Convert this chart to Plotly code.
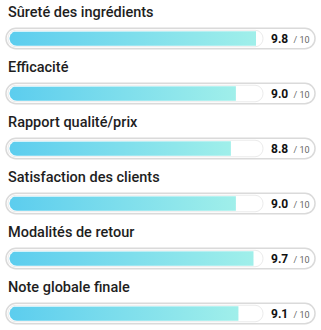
import numpy as np
import plotly.graph_objects as go

categories = ["Sûreté des ingrédients", "Efficacité", "Rapport qualité/prix",
              "Satisfaction des clients", "Modalités de retour", "Note globale finale"]
scores = [9.8, 9.0, 8.8, 9.0, 9.7, 9.1]
max_score = 10

W, H = 321, 330
PX_PER_X = 25.1          # pixels per score unit
X0_PX = 10               # pixel position of score 0
ROW_PX = 55              # row spacing in pixels
ROW0_PX = 38.5           # center of first bar

x_range = [-X0_PX / PX_PER_X, (W - X0_PX) / PX_PER_X]
y_range = [(H - ROW0_PX) / ROW_PX, -ROW0_PX / ROW_PX]

def px_x(p):
    return p / PX_PER_X

def px_y(p):
    return p / ROW_PX

rows = list(range(len(categories)))
fig = go.Figure()

# outer track
outer_left = px_x(6 - X0_PX)
outer_right = px_x(315 - X0_PX)
fig.add_trace(go.Bar(
    y=rows, x=[outer_right - outer_left] * len(rows), base=[outer_left] * len(rows),
    orientation="h", width=px_y(20.5),
    marker=dict(color="white", line=dict(color="#dadada", width=1.5), cornerradius=10),
    hoverinfo="skip", showlegend=False))

# inner track
inner_left = px_x(8 - X0_PX)
inner_right = max_score + px_x(2)
fig.add_trace(go.Bar(
    y=rows, x=[inner_right - inner_left] * len(rows), base=[inner_left] * len(rows),
    orientation="h", width=px_y(16.5),
    marker=dict(color="white", line=dict(color="#ebebeb", width=1), cornerradius=8),
    hoverinfo="skip", showlegend=False))

# gradient fills with rounded left end
r_px = 7.3
rx, ry = px_x(r_px), px_y(r_px)
left = px_x(9.5 - X0_PX)
for i, v in enumerate(scores):
    theta = np.linspace(np.pi / 2, 3 * np.pi / 2, 24)
    cx = left + rx
    xs = list(cx + rx * np.cos(theta))
    ys = list(i - ry * np.sin(theta))
    xs = [v] + xs + [v, v]
    ys = [i - ry] + ys + [i + ry, i - ry]
    fig.add_trace(go.Scatter(
        x=xs, y=ys, mode="lines", fill="toself", line=dict(width=0),
        fillgradient=dict(type="horizontal",
                          colorscale=[[0, "#5ccdee"], [1, "#a0efea"]]),
        hoverinfo="skip", showlegend=False))

annotations = []
for i, (c, v) in enumerate(zip(categories, scores)):
    annotations.append(dict(
        x=px_x(5.5 - X0_PX), y=i - px_y(26.5), xref="x", yref="y",
        text=c, showarrow=False, xanchor="left", yanchor="middle",
        font=dict(family="Roboto", size=14.5, color="#1e1e1e", weight=500)))
    annotations.append(dict(
        x=px_x(269 - X0_PX), y=i + px_y(0.5), xref="x", yref="y",
        text=f"<b>{v:.1f}</b> <span style='font-size:9px;color:#666'> / {max_score}</span>",
        showarrow=False, xanchor="left", yanchor="middle",
        font=dict(family="Roboto", size=12, color="#111")))

fig.update_layout(
    width=W, height=H, margin=dict(l=0, r=0, t=0, b=0),
    paper_bgcolor="white", plot_bgcolor="white",
    barmode="overlay",
    xaxis=dict(range=x_range, visible=False, fixedrange=True),
    yaxis=dict(range=y_range, visible=False, fixedrange=True),
    annotations=annotations,
)

fig.write_html("out.html")
